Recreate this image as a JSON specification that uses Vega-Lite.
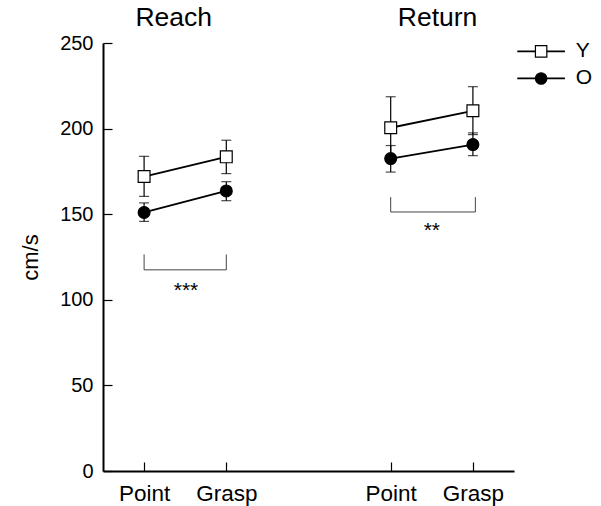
{
  "$schema": "https://vega.github.io/schema/vega-lite/v6.json",
  "width": 411,
  "height": 428,
  "autosize": "none",
  "padding": {"left": 103, "top": 43, "right": 87, "bottom": 35},
  "background": "white",
  "config": {
    "view": {"stroke": null},
    "font": "Liberation Sans",
    "axis": {"grid": false, "domainColor": "black", "domainWidth": 2, "tickColor": "black", "tickWidth": 1.2, "labelColor": "black", "labelFont": "Liberation Sans", "titleFont": "Liberation Sans", "titleColor": "black", "titleFontWeight": "normal"}
  },
  "datasets": {
    "means": [
      {"phase": "Reach", "cond": "Point", "pos": 1, "group": "Y", "mean": 172.0, "lo": 160.4, "hi": 183.8},
      {"phase": "Reach", "cond": "Grasp", "pos": 2, "group": "Y", "mean": 183.5, "lo": 173.7, "hi": 193.2},
      {"phase": "Reach", "cond": "Point", "pos": 1, "group": "O", "mean": 151.0, "lo": 145.8, "hi": 156.6},
      {"phase": "Reach", "cond": "Grasp", "pos": 2, "group": "O", "mean": 163.6, "lo": 157.9, "hi": 169.0},
      {"phase": "Return", "cond": "Point", "pos": 4, "group": "Y", "mean": 200.5, "lo": 182.5, "hi": 218.6},
      {"phase": "Return", "cond": "Grasp", "pos": 5, "group": "Y", "mean": 210.4, "lo": 196.5, "hi": 224.5},
      {"phase": "Return", "cond": "Point", "pos": 4, "group": "O", "mean": 182.5, "lo": 174.6, "hi": 190.1},
      {"phase": "Return", "cond": "Grasp", "pos": 5, "group": "O", "mean": 190.7, "lo": 184.2, "hi": 197.5}
    ],
    "legendrows": [
      {"group": "Y", "x1": 5.54, "xm": 5.83, "x2": 6.12, "xt": 6.25, "y": 245.1},
      {"group": "O", "x1": 5.54, "xm": 5.83, "x2": 6.12, "xt": 6.25, "y": 229.3}
    ],
    "brackets": [
      {"x": 1, "x2": 2, "y": 117.5, "y2": 117.5},
      {"x": 1, "x2": 1, "y": 117.5, "y2": 126.5},
      {"x": 2, "x2": 2, "y": 117.5, "y2": 126.5},
      {"x": 4, "x2": 5.03, "y": 151.3, "y2": 151.3},
      {"x": 4, "x2": 4, "y": 151.3, "y2": 160.0},
      {"x": 5.03, "x2": 5.03, "y": 151.3, "y2": 160.0}
    ],
    "notes": [
      {"x": 1.51, "y": 101.7, "t": "***", "kind": "star"},
      {"x": 4.5, "y": 136.4, "t": "**", "kind": "star"},
      {"x": 1.36, "y": 260, "t": "Reach", "kind": "title"},
      {"x": 4.57, "y": 260, "t": "Return", "kind": "title"}
    ]
  },
  "layer": [
    {
      "data": {"name": "means"},
      "mark": {"type": "rule", "color": "black", "strokeWidth": 1.2},
      "encoding": {
        "x": {"field": "pos", "type": "quantitative", "scale": {"domain": [0.5, 5.5], "nice": false, "zero": false},
          "axis": {"values": [1, 2, 4, 5], "labelExpr": "datum.value == 1 || datum.value == 4 ? 'Point' : 'Grasp'", "title": null, "tickSize": -9, "labelPadding": 20, "labelFontSize": 22.5}},
        "y": {"field": "lo", "type": "quantitative", "scale": {"domain": [0, 250], "nice": false},
          "axis": {"values": [0, 50, 100, 150, 200, 250], "title": "cm/s", "tickSize": -9, "labelPadding": 19, "labelFontSize": 20, "titleFontSize": 22, "titleAngle": -90, "titleX": -73, "titleY": 214, "titleAlign": "center", "titleBaseline": "middle"}},
        "y2": {"field": "hi"}
      }
    },
    {
      "data": {"name": "means"},
      "mark": {"type": "tick", "orient": "horizontal", "size": 10, "thickness": 1.2, "color": "black"},
      "encoding": {
        "x": {"field": "pos", "type": "quantitative"},
        "y": {"field": "lo", "type": "quantitative"}
      }
    },
    {
      "data": {"name": "means"},
      "mark": {"type": "tick", "orient": "horizontal", "size": 10, "thickness": 1.2, "color": "black"},
      "encoding": {
        "x": {"field": "pos", "type": "quantitative"},
        "y": {"field": "hi", "type": "quantitative"}
      }
    },
    {
      "data": {"name": "means"},
      "mark": {"type": "line", "color": "black", "strokeWidth": 1.8},
      "encoding": {
        "x": {"field": "pos", "type": "quantitative"},
        "y": {"field": "mean", "type": "quantitative"},
        "detail": [{"field": "group"}, {"field": "phase"}]
      }
    },
    {
      "data": {"name": "means"},
      "mark": {"type": "point", "filled": true, "stroke": "black", "strokeWidth": 1.2, "size": 140, "opacity": 1},
      "encoding": {
        "x": {"field": "pos", "type": "quantitative"},
        "y": {"field": "mean", "type": "quantitative"},
        "shape": {"field": "group", "type": "nominal", "scale": {"domain": ["Y", "O"], "range": ["square", "circle"]}, "legend": null},
        "fill": {"field": "group", "type": "nominal", "scale": {"domain": ["Y", "O"], "range": ["white", "black"]}, "legend": null}
      }
    },
    {
      "data": {"name": "legendrows"},
      "mark": {"type": "rule", "color": "black", "strokeWidth": 1.8},
      "encoding": {
        "x": {"field": "x1", "type": "quantitative"},
        "x2": {"field": "x2"},
        "y": {"field": "y", "type": "quantitative"}
      }
    },
    {
      "data": {"name": "legendrows"},
      "mark": {"type": "point", "filled": true, "stroke": "black", "strokeWidth": 1.2, "size": 130, "opacity": 1},
      "encoding": {
        "x": {"field": "xm", "type": "quantitative"},
        "y": {"field": "y", "type": "quantitative"},
        "shape": {"field": "group", "type": "nominal", "legend": null},
        "fill": {"field": "group", "type": "nominal", "legend": null}
      }
    },
    {
      "data": {"name": "legendrows"},
      "mark": {"type": "text", "fontSize": 21, "baseline": "middle", "align": "left", "color": "black"},
      "encoding": {
        "x": {"field": "xt", "type": "quantitative"},
        "y": {"field": "y", "type": "quantitative"},
        "text": {"field": "group"}
      }
    },
    {
      "data": {"name": "brackets"},
      "mark": {"type": "rule", "color": "#444444", "strokeWidth": 1},
      "encoding": {
        "x": {"field": "x", "type": "quantitative"},
        "x2": {"field": "x2"},
        "y": {"field": "y", "type": "quantitative"},
        "y2": {"field": "y2"}
      }
    },
    {
      "data": {"name": "notes"},
      "transform": [{"filter": "datum.kind === 'star'"}],
      "mark": {"type": "text", "fontSize": 21, "baseline": "alphabetic", "align": "center", "color": "black"},
      "encoding": {
        "x": {"field": "x", "type": "quantitative"},
        "y": {"field": "y", "type": "quantitative"},
        "text": {"field": "t"}
      }
    },
    {
      "data": {"name": "notes"},
      "transform": [{"filter": "datum.kind === 'title'"}],
      "mark": {"type": "text", "fontSize": 26.5, "baseline": "alphabetic", "align": "center", "color": "black"},
      "encoding": {
        "x": {"field": "x", "type": "quantitative"},
        "y": {"field": "y", "type": "quantitative"},
        "text": {"field": "t"}
      }
    }
  ]
}
